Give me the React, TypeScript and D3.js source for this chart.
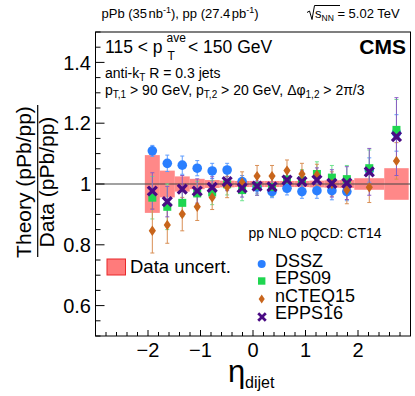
import React from 'react';
import * as d3 from 'd3';

const W = 415;
const H = 396;

// eta_dijet bin edges (16 bins)
const binEdges = [-2.06, -1.775, -1.49, -1.205, -0.92, -0.635, -0.35, -0.065, 0.22, 0.505, 0.79, 1.075, 1.36, 1.645, 1.93, 2.5, 2.965];
// data uncertainty (half height of the boxes around 1)
const dataUnc = [0.095, 0.044, 0.025, 0.017, 0.013, 0.011, 0.010, 0.010, 0.010, 0.010, 0.010, 0.011, 0.012, 0.013, 0.019, 0.052];

const dssz = [1.109, 1.068, 1.062, 1.052, 1.043, 1.046, 1.008, 0.990, 0.975, 0.986, 0.975, 0.978, 0.978, 0.975, 1.046, 1.168];
const dsszErr = [0.018, 0.027, 0.03, 0.025, 0.025, 0.022, 0.02, 0.02, 0.02, 0.022, 0.022, 0.025, 0.03, 0.03, 0.04, 0.06];

const eps09 = [0.955, 0.925, 0.938, 0.969, 0.972, 0.999, 0.980, 0.993, 0.990, 1.015, 1.012, 1.033, 1.021, 1.016, 1.052, 1.178];
const eps09Err = [0.07, 0.075, 0.045, 0.04, 0.04, 0.035, 0.035, 0.03, 0.03, 0.035, 0.035, 0.04, 0.04, 0.045, 0.06, 0.1];

const ncteq15 = [0.846, 0.865, 0.901, 0.925, 0.956, 0.990, 1.005, 1.026, 1.026, 1.044, 1.033, 1.030, 1.000, 0.980, 0.989, 1.076];
const ncteq15Err = [0.073, 0.06, 0.055, 0.045, 0.04, 0.035, 0.035, 0.035, 0.035, 0.035, 0.035, 0.035, 0.04, 0.045, 0.05, 0.06];

const epps16 = [0.977, 0.942, 0.983, 0.977, 0.989, 1.008, 0.987, 0.993, 0.991, 1.013, 1.008, 1.013, 1.002, 1.003, 1.040, 1.156];
const epps16Err = [0.06, 0.05, 0.045, 0.04, 0.035, 0.03, 0.03, 0.03, 0.03, 0.035, 0.035, 0.04, 0.045, 0.054, 0.077, 0.128];

const yTicks = [0.6, 0.8, 1, 1.2, 1.4];
const yTickLabels = ['0.6', '0.8', '1', '1.2', '1.4'];
const xTicks = [-2, -1, 0, 1, 2];
const xTickLabels = ['\u22122', '\u22121', '0', '1', '2'];

const FONT = '"Liberation Sans", Arial, Helvetica, sans-serif';

const left = 95.5, right = 410.5, top = 32, bottom = 336;

const x = d3.scaleLinear().domain([-3, 3]).range([left, right]);
const y = d3.scaleLinear().domain([0.5, 1.5]).range([bottom, top]);

const centers = binEdges.slice(0, -1).map((e, i) => (e + binEdges[i + 1]) / 2);

const colors = {
  dssz: '#2a7fff', dsszE: '#5d9cff',
  eps: '#1fd650', epsE: '#6fe38f',
  ncteq: '#c8651c', ncteqE: '#d98f55',
  epps: '#4a0b84', eppsE: '#8a5cc4',
  box: '#ff7b7b',
};

const diamond = 'M0,-5.2L3.6,0L0,5.2L-3.6,0Z';
const cross = (() => {
  const a = 5.6, w = 2.3;
  // bold X shape
  const pts = [
    [-a, -a + w], [-a + w, -a], [0, -w], [a - w, -a], [a, -a + w], [w, 0],
    [a, a - w], [a - w, a], [0, w], [-a + w, a], [-a, a - w], [-w, 0],
  ];
  return 'M' + pts.map(p => p.join(',')).join('L') + 'Z';
})();

function ErrBars({ vals, errs, color }: { vals: number[]; errs: number[]; color: string }) {
  return (
    <g stroke={color} strokeWidth={1}>
      {vals.map((v, i) => {
        const cx = x(centers[i]);
        const y1 = y(v + errs[i]);
        const y2 = y(v - errs[i]);
        return (
          <g key={i}>
            <line x1={cx} x2={cx} y1={y1} y2={y2} />
            <line x1={cx - 2} x2={cx + 2} y1={y1} y2={y1} />
            <line x1={cx - 2} x2={cx + 2} y1={y2} y2={y2} />
          </g>
        );
      })}
    </g>
  );
}

export default function App() {
  const yMinor = d3.range(0.5, 1.5001, 0.05);
  const xMinor = d3.range(-3, 3.0001, 0.2);
  return (
    <svg width={W} height={H} style={{ position: 'absolute', left: 0, top: 0, background: '#fff' }} fontFamily={FONT}>
      <rect width={W} height={H} fill="#fff" />

      {/* data uncertainty boxes */}
      <g fill={colors.box} fillOpacity={0.9}>
        {dataUnc.map((u, i) => (
          <rect key={i} x={x(binEdges[i])} width={x(binEdges[i + 1]) - x(binEdges[i])}
            y={y(1 + u)} height={y(1 - u) - y(1 + u)} />
        ))}
      </g>
      <line x1={left} x2={right} y1={y(1)} y2={y(1)} stroke="#444" strokeWidth={1.2} />

      {/* error bars */}
      <ErrBars vals={dssz} errs={dsszErr} color={colors.dsszE} />
      <ErrBars vals={eps09} errs={eps09Err} color={colors.epsE} />
      <ErrBars vals={ncteq15} errs={ncteq15Err} color={colors.ncteqE} />
      <ErrBars vals={epps16} errs={epps16Err} color={colors.eppsE} />

      {/* markers */}
      {dssz.map((v, i) => <circle key={'a' + i} cx={x(centers[i])} cy={y(v)} r={4.8} fill={colors.dssz} />)}
      {eps09.map((v, i) => <rect key={'b' + i} x={x(centers[i]) - 4} y={y(v) - 4} width={8} height={8} fill={colors.eps} />)}
      {ncteq15.map((v, i) => <path key={'c' + i} d={diamond} transform={`translate(${x(centers[i])},${y(v)})`} fill={colors.ncteq} />)}
      {epps16.map((v, i) => <path key={'d' + i} d={cross} transform={`translate(${x(centers[i])},${y(v)})`} fill={colors.epps} />)}

      {/* frame */}
      <rect x={left} y={top} width={right - left} height={bottom - top} fill="none" stroke="#000" strokeWidth={1} />

      {/* axis ticks */}
      <g stroke="#000" strokeWidth={1}>
        {yMinor.map((t, i) => {
          const major = Math.abs((t * 100) % 20) < 0.01 || Math.abs((t * 100) % 20 - 20) < 0.01;
          return <line key={i} x1={left} x2={left + (major ? 9 : 5)} y1={y(t)} y2={y(t)} />;
        })}
        {xMinor.map((t, i) => {
          const major = Math.abs(t - Math.round(t)) < 0.01;
          return <line key={i} x1={x(t)} x2={x(t)} y1={bottom} y2={bottom - (major ? 6 : 4)} />;
        })}
      </g>
      <g fontSize={20} textAnchor="end">
        {yTicks.map((t, i) => (
          <text key={i} x={91} y={y(t)} dy="0.36em">{yTickLabels[i]}</text>
        ))}
      </g>
      <g fontSize={20} textAnchor="middle">
        {xTicks.map((t, i) => (
          <text key={i} x={x(t)} y={357}>{xTickLabels[i]}</text>
        ))}
      </g>

      {/* axis titles */}
      <g transform="translate(0,182) rotate(-90)" fontSize={21} textAnchor="middle">
        <text x={0} y={31}>Theory (pPb/pp)</text>
        <text x={0} y={54}>Data (pPb/pp)</text>
      </g>
      <line x1={37.7} x2={37.7} y1={105} y2={257} stroke="#000" strokeWidth={1.2} />
      <text x={228} y={382} fontSize={31}>η</text>
      <text x={245} y={388} fontSize={16}>dijet</text>

      {/* header */}
      <text x={101.5} y={18} fontSize={13}>
        pPb (35<tspan dx={1.5}>nb</tspan><tspan fontSize={9} dy={-5}>-1</tspan><tspan dy={5}>), pp (27.4</tspan><tspan dx={1.5}>pb</tspan><tspan fontSize={9} dy={-5}>-1</tspan><tspan dy={5}>)</tspan>
      </text>
      <path d="M307,12.5 L309.5,11 L312,19.5 L314.5,5.5 L340,5.5" fill="none" stroke="#000" strokeWidth={1} />
      <text x={315} y={18} fontSize={13}>
        s<tspan fontSize={8.5} dy={3}>NN</tspan><tspan dy={-3}> = 5.02 TeV</tspan>
      </text>

      {/* labels inside frame */}
      <text x={105} y={53} fontSize={17.5}>115 &lt; p</text>
      <text x={166.5} y={42} fontSize={12}>ave</text>
      <text x={167.5} y={60} fontSize={12}>T</text>
      <text x={188} y={53} fontSize={17.5}>&lt; 150 GeV</text>
      <text x={406} y={54} fontSize={21} fontWeight="bold" textAnchor="end">CMS</text>

      <text x={105} y={78} fontSize={14}>
        anti-k<tspan fontSize={10} dy={3}>T</tspan><tspan dy={-3}> R = 0.3 jets</tspan>
      </text>
      <text x={105} y={95} fontSize={14}>
        p<tspan fontSize={10} dy={3}>T,1</tspan><tspan dy={-3}> &gt; 90 GeV, p</tspan><tspan fontSize={10} dy={3}>T,2</tspan><tspan dy={-3}> &gt; 20 GeV, Δφ</tspan><tspan fontSize={10} dy={3}>1,2</tspan><tspan dy={-3}> &gt; 2π/3</tspan>
      </text>

      {/* legends */}
      <rect x={107} y={259} width={18.5} height={16} fill={colors.box} stroke="#e8282a" strokeWidth={1} />
      <text x={130} y={273} fontSize={18.5}>Data uncert.</text>

      <text x={248.5} y={238} fontSize={14}>pp NLO pQCD: CT14</text>
      <circle cx={261.7} cy={264} r={4} fill={colors.dssz} />
      <rect x={258} y={277.3} width={7.4} height={7.4} fill={colors.eps} />
      <path d={diamond} transform="translate(261.7,299) scale(0.85)" fill={colors.ncteq} />
      <path d={cross} transform="translate(262,317) scale(0.85)" fill={colors.epps} />
      <g fontSize={18}>
        <text x={275} y={267}>DSSZ</text>
        <text x={275} y={284}>EPS09</text>
        <text x={275} y={301.5}>nCTEQ15</text>
        <text x={275} y={319}>EPPS16</text>
      </g>
    </svg>
  );
}
